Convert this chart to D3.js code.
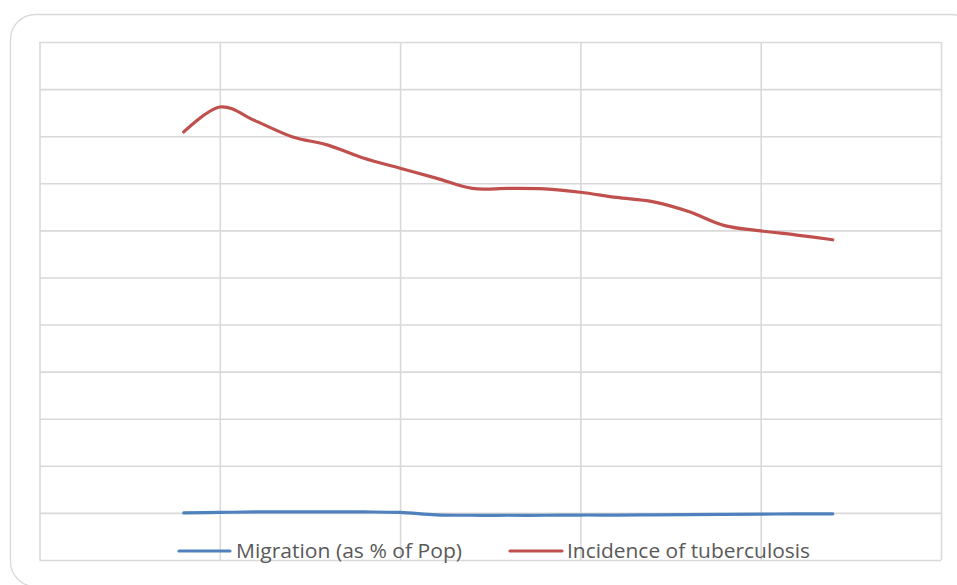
<!DOCTYPE html>
<html>
<head>
<meta charset="utf-8">
<script src="https://cdn.jsdelivr.net/npm/d3@7"></script>
<style>
  html, body { margin: 0; padding: 0; background: #ffffff; }
  svg { display: block; }
</style>
</head>
<body>
<svg id="chart" width="957" height="585"></svg>
<script>
// ---- data ----
const years = [1994,1995,1996,1997,1998,1999,2000,2001,2002,2003,2004,2005,2006,2007,2008,2009,2010,2011,2012];
const migration = [0.00,0.01,0.02,0.02,0.02,0.02,0.01,-0.04,-0.05,-0.05,-0.05,-0.045,-0.045,-0.04,-0.035,-0.03,-0.025,-0.02,-0.02];
const tuberculosis = [8.09,8.62,8.32,7.99,7.81,7.53,7.32,7.11,6.89,6.89,6.88,6.81,6.70,6.61,6.40,6.10,5.99,5.90,5.80];
const seriesNames = ["Migration (as % of Pop)", "Incidence of tuberculosis"];
const xTicks = [1990,1995,2000,2005,2010,2015];
const yTicks = [-1,0,1,2,3,4,5,6,7,8,9,10];

// ---- layout ----
const svg = d3.select("#chart");
const plot = {left: 39.5, right: 941, top: 42, bottom: 560};
const colors = ["#4f81bd", "#c0504d"];

// outer chart border
svg.append("rect")
  .attr("x", 10.5).attr("y", 14.5)
  .attr("width", 965).attr("height", 572)
  .attr("rx", 25).attr("ry", 25)
  .attr("fill", "#ffffff")
  .attr("stroke", "#d9d9d9").attr("stroke-width", 1.3);

const x = d3.scaleLinear().domain([1990, 2015]).range([plot.left, plot.right]);
const y = d3.scaleLinear().domain([-1, 10]).range([plot.bottom, plot.top]);

// gridlines via axes
const gy = svg.append("g")
  .attr("transform", `translate(${plot.left},0)`)
  .call(d3.axisLeft(y).tickValues(yTicks).tickSize(-(plot.right - plot.left)).tickFormat(""));
const gx = svg.append("g")
  .attr("transform", `translate(0,${plot.bottom})`)
  .call(d3.axisBottom(x).tickValues(xTicks).tickSize(-(plot.bottom - plot.top)).tickFormat(""));
[gx, gy].forEach(g => {
  g.select(".domain").remove();
  g.selectAll(".tick line").attr("stroke", "#d9d9d9").attr("stroke-width", 1.6);
});

// series
const line = d3.line()
  .x((d, i) => x(years[i]))
  .y(d => y(d))
  .curve(d3.curveCatmullRom.alpha(0));

[migration, tuberculosis].forEach((s, k) => {
  svg.append("path")
    .datum(s)
    .attr("d", line)
    .attr("fill", "none")
    .attr("stroke", colors[k])
    .attr("stroke-width", 3.2)
    .attr("stroke-linecap", "round")
    .attr("stroke-linejoin", "round");
});

// legend
const legendItems = [
  {name: seriesNames[0], color: colors[0], x0: 179, x1: 230, tx: 236, tw: 226},
  {name: seriesNames[1], color: colors[1], x0: 510, x1: 562, tx: 567, tw: 243}
];
const ly = 551;
legendItems.forEach(it => {
  svg.append("line")
    .attr("x1", it.x0).attr("x2", it.x1)
    .attr("y1", ly).attr("y2", ly)
    .attr("stroke", it.color).attr("stroke-width", 3.2)
    .attr("stroke-linecap", "round");
  svg.append("text")
    .attr("x", it.tx).attr("y", ly + 7)
    .attr("font-family", "'Open Sans', 'Liberation Sans', sans-serif")
    .attr("font-size", 20)
    .attr("fill", "#595959")
    .attr("textLength", it.tw)
    .attr("lengthAdjust", "spacingAndGlyphs")
    .text(it.name);
});
</script>
</body>
</html>
